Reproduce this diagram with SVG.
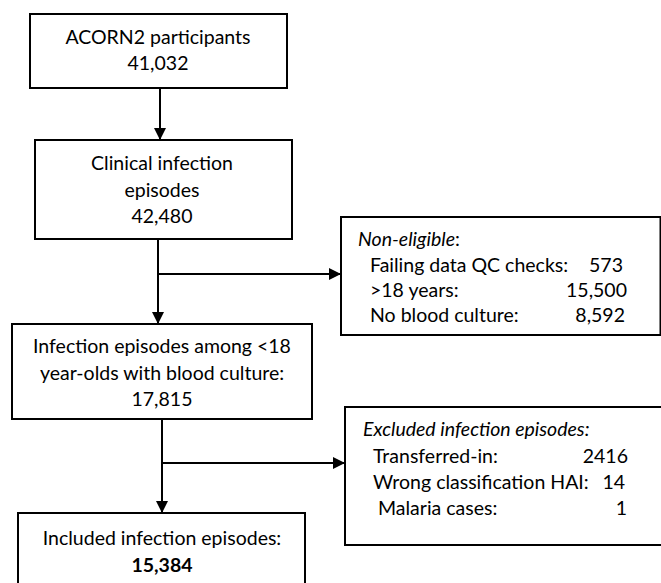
<svg xmlns="http://www.w3.org/2000/svg" width="661" height="583" viewBox="0 0 661 583">
<style>
  .box { fill: #ffffff; stroke: #000000; stroke-width: 2; }
  .t { font-family: Lato, "Liberation Sans", sans-serif; font-size: 19.5px; fill: #000000; }
  .c { text-anchor: middle; }
  .r { text-anchor: end; }
  .i { font-style: italic; }
  .b { font-weight: bold; }
  .line { fill: none; stroke: #000000; stroke-width: 2; }
</style>
<defs>
  <marker id="arr" markerWidth="12" markerHeight="12" refX="12" refY="6" orient="auto" markerUnits="userSpaceOnUse">
    <path d="M0,0 L12,6 L0,12 Z" fill="#000000"/>
  </marker>
</defs>
<rect width="661" height="583" fill="#ffffff"/>
<g id="connectors">
  <line class="line" x1="160" y1="88" x2="160" y2="140" marker-end="url(#arr)"/>
  <line class="line" x1="158" y1="239" x2="158" y2="324" marker-end="url(#arr)"/>
  <line class="line" x1="158" y1="274" x2="341" y2="274" marker-end="url(#arr)"/>
  <line class="line" x1="162" y1="419" x2="162" y2="513" marker-end="url(#arr)"/>
  <line class="line" x1="162" y1="463" x2="345" y2="463" marker-end="url(#arr)"/>
</g>
<g id="participants">
  <rect class="box" x="30" y="14" width="257" height="74"/>
  <text class="t c" x="158" y="44">ACORN2 participants</text>
  <text class="t c" x="158" y="70">41,032</text>
</g>
<g id="clinical">
  <rect class="box" x="35" y="140" width="257" height="99"/>
  <text class="t c" x="162" y="170">Clinical infection</text>
  <text class="t c" x="162" y="197">episodes</text>
  <text class="t c" x="162" y="223">42,480</text>
</g>
<g id="noneligible">
  <rect class="box" x="341" y="217" width="319.5" height="118"/>
  <text class="t" x="358" y="246"><tspan class="i">Non-eligible</tspan>:</text>
  <text class="t" x="370" y="272">Failing data QC checks:</text>
  <text class="t r" x="623" y="272">573</text>
  <text class="t" x="370" y="297">&gt;18 years:</text>
  <text class="t r" x="627" y="297">15,500</text>
  <text class="t" x="370" y="322">No blood culture:</text>
  <text class="t r" x="625" y="322">8,592</text>
</g>
<g id="under18">
  <rect class="box" x="12" y="324" width="300" height="95"/>
  <text class="t c" x="162" y="353">Infection episodes among &lt;18</text>
  <text class="t c" x="162" y="380">year-olds with blood culture:</text>
  <text class="t c" x="162" y="406">17,815</text>
</g>
<g id="excluded">
  <rect class="box" x="345" y="407" width="330" height="138"/>
  <text class="t i" x="363" y="436">Excluded infection episodes:</text>
  <text class="t" x="373" y="463">Transferred-in:</text>
  <text class="t r" x="628" y="463">2416</text>
  <text class="t" x="373" y="489">Wrong classification HAI:</text>
  <text class="t r" x="625" y="489">14</text>
  <text class="t" x="378" y="515">Malaria cases:</text>
  <text class="t r" x="627" y="515">1</text>
</g>
<g id="included">
  <rect class="box" x="18" y="513" width="287" height="80"/>
  <text class="t c" x="162" y="545">Included infection episodes:</text>
  <text class="t c b" x="162" y="572">15,384</text>
</g>
</svg>
